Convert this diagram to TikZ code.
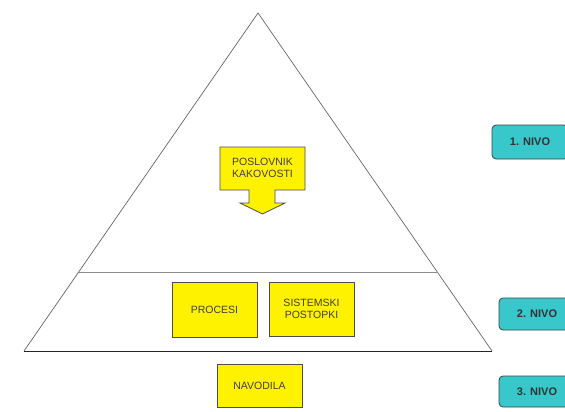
\documentclass[tikz,border=0pt]{standalone}
\usepackage{fontspec}
\setmainfont{Liberation Sans}
\definecolor{turq}{RGB}{56,200,204}
\begin{document}
\begin{tikzpicture}[x=1pt,y=-1pt,
  ybox/.style={draw=black!70, fill=yellow, line width=0.8pt, align=center,
    font=\fontsize{10.5}{12}\selectfont, text=black!75, inner sep=0pt},
  nivo/.style={draw=black!75, fill=turq, rounded corners=4pt, line width=0.8pt,
    font=\fontsize{11}{13}\selectfont\bfseries, text=black!80, inner sep=0pt},
  edge/.style={draw=black!60, line width=0.7pt}]
\useasboundingbox (0,0) rectangle (565,412);
\clip (0,0) rectangle (565,412);
% triangle
\coordinate (apex) at (258,13);
\coordinate (bl) at (24,351);
\coordinate (br) at (492,351);
\coordinate (ml) at (78.7,272);
\coordinate (mr) at (438,272);
\draw[edge] (bl) -- (apex) -- (br);
\draw[black!85, line width=0.9pt] (bl) -- (br);
\draw[black!45, line width=0.9pt] (ml) -- (mr);
% callout
\draw[draw=black!70, fill=yellow, line width=0.8pt]
  (220,147) -- (305,147) -- (305,190) -- (275,190) -- (275,203) -- (285,203)
  -- (262.5,214) -- (240,203) -- (249,203) -- (249,190) -- (220,190) -- cycle;
\node[align=center, font=\fontsize{10.5}{12}\selectfont, text=black!75] (pk) at (262.5,168) {POSLOVNIK\\KAKOVOSTI};
% level boxes
\node[ybox, minimum width=85pt, minimum height=55pt] (procesi) at (214.5,309.5) {PROCESI};
\node[ybox, minimum width=85pt, minimum height=54pt] (sist) at (311.5,309) {SISTEMSKI\\POSTOPKI};
\node[ybox, minimum width=85pt, minimum height=43pt] (nav) at (259.5,385.5) {NAVODILA};
% nivo labels
\node[nivo, minimum width=76pt, minimum height=34pt] (n1) at (530,142) {1. NIVO};
\node[nivo, minimum width=76pt, minimum height=32pt] (n2) at (537,314) {2. NIVO};
\node[nivo, minimum width=76pt, minimum height=31pt] (n3) at (537,391.5) {3. NIVO};
\end{tikzpicture}
\end{document}
